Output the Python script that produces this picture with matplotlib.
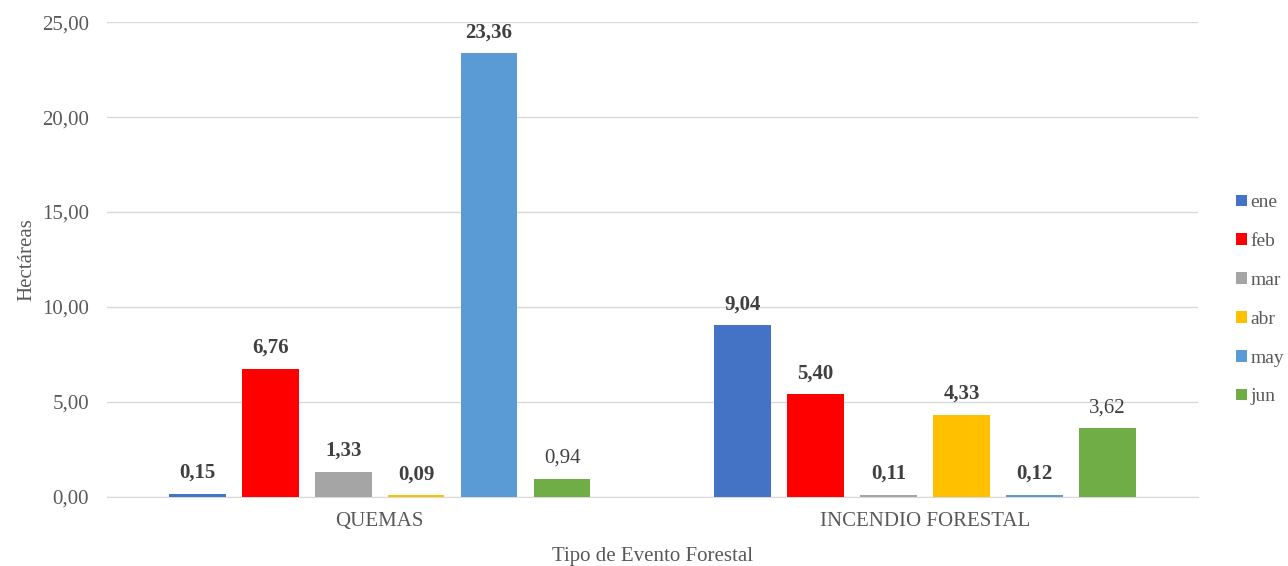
import matplotlib
matplotlib.use("Agg")
import matplotlib.pyplot as plt
import numpy as np

plt.rcParams['font.family'] = ['Liberation Serif', 'DejaVu Serif']

categories = ['QUEMAS', 'INCENDIO FORESTAL']
months = ['ene', 'feb', 'mar', 'abr', 'may', 'jun']
values = {
    'ene': [0.15, 9.04],
    'feb': [6.76, 5.40],
    'mar': [1.33, 0.11],
    'abr': [0.09, 4.33],
    'may': [23.36, 0.12],
    'jun': [0.94, 3.62],
}
colors = ['#4472C4', '#FF0000', '#A5A5A5', '#FFC000', '#5B9BD5', '#70AD47']
# labels drawn non-bold in the original
plain = {('jun', 0), ('jun', 1)}

fig = plt.figure(figsize=(12.88, 5.66), dpi=100)
ax = fig.add_axes([0.083, 0.122, 0.847, 0.839])

x = np.arange(len(categories))
step = 0.1338
width = 0.104
for i, m in enumerate(months):
    pos = x + (i - 2.5) * step
    bars = ax.bar(pos, values[m], width, color=colors[i], label=m, zorder=3)
    for j, b in enumerate(bars):
        v = values[m][j]
        txt = f"{v:.2f}".replace('.', ',')
        ax.annotate(txt, (b.get_x() + b.get_width() / 2, v),
                    xytext=(0, 8), textcoords='offset points',
                    ha='center', va='bottom', fontsize=15, color='#404040',
                    fontweight='normal' if (m, j) in plain else 'bold')

ax.set_xlim(-0.5, 1.5)
ax.set_ylim(0, 25)
ax.set_yticks(np.arange(0, 26, 5))
ax.set_yticklabels([f"{t:.2f}".replace('.', ',') for t in np.arange(0, 26, 5)])
ax.set_xticks(x)
ax.set_xticklabels(categories)
ax.grid(axis='y', color='#D9D9D9', linewidth=1, zorder=0)
for s in ['top', 'right', 'left']:
    ax.spines[s].set_visible(False)
ax.spines['bottom'].set_color('#D9D9D9')
ax.tick_params(axis='both', length=0, labelsize=15, colors='#595959')
ax.tick_params(axis='y', pad=13)
ax.tick_params(axis='x', pad=11)
ax.set_ylabel('Hectáreas', fontsize=15, color='#595959', labelpad=4)
ax.set_xlabel('Tipo de Evento Forestal', fontsize=15, color='#595959', labelpad=11)

leg = ax.legend(loc='center left', bbox_to_anchor=(1.019, 0.415), frameon=False,
                fontsize=14, handlelength=0.55, handleheight=0.55,
                handletextpad=0.2, labelspacing=1.12, labelcolor='#595959')

fig.savefig('out.png', dpi=100)
